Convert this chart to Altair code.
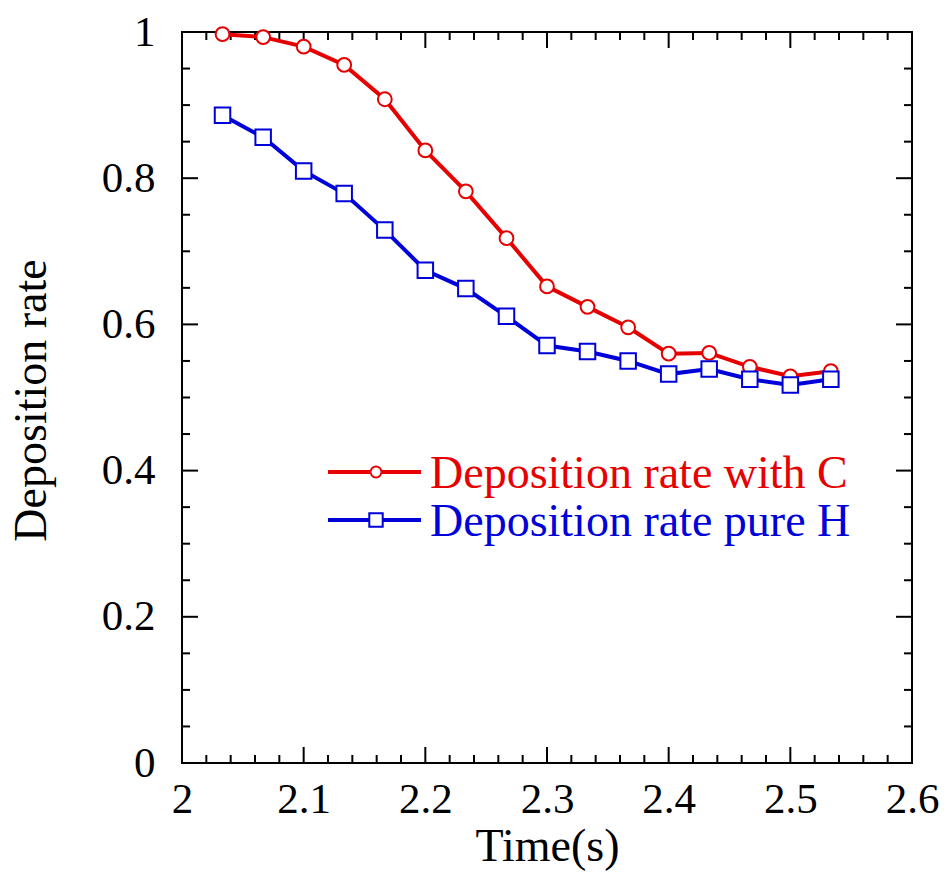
import altair as alt
import pandas as pd

# ---- data ----
time_s = [2.0333, 2.0667, 2.1, 2.1333, 2.1667, 2.2, 2.2333, 2.2667,
          2.3, 2.3333, 2.3667, 2.4, 2.4333, 2.4667, 2.5, 2.5333]
rate_with_c = [0.997, 0.993, 0.980, 0.955, 0.908, 0.838, 0.782, 0.718,
               0.652, 0.624, 0.596, 0.560, 0.561, 0.542, 0.529, 0.536]
rate_pure_h = [0.886, 0.856, 0.810, 0.779, 0.729, 0.674, 0.649, 0.611,
               0.571, 0.563, 0.550, 0.532, 0.539, 0.525, 0.517, 0.525]
series_names = ["Deposition rate with C", "Deposition rate pure H"]

x_major = [2.0, 2.1, 2.2, 2.3, 2.4, 2.5, 2.6]
x_minor = [2.02, 2.04, 2.06, 2.08, 2.12, 2.14, 2.16, 2.18, 2.22, 2.24, 2.26, 2.28,
           2.32, 2.34, 2.36, 2.38, 2.42, 2.44, 2.46, 2.48, 2.52, 2.54, 2.56, 2.58]
y_major = [0.0, 0.2, 0.4, 0.6, 0.8, 1.0]
y_minor = [0.05, 0.1, 0.15, 0.25, 0.3, 0.35, 0.45, 0.5, 0.55, 0.65, 0.7, 0.75,
           0.85, 0.9, 0.95]

# ---- styling ----
W, H = 730, 731
FONT = "Liberation Serif"
COLORS = ["#e60000", "#0000d8"]
SHAPES = ["circle", "square"]
SIZES = [190, 240]

xscale = alt.Scale(domain=[2.0, 2.6], nice=False, zero=False)
yscale = alt.Scale(domain=[0.0, 1.0], nice=False, zero=False)

xaxis = alt.Axis(values=x_major, title="Time(s)", grid=False, ticks=False, tickSize=0,
                 domain=False, labelFlush=False, labelPadding=15,
                 labelExpr="toString(round(datum.value*10)/10)",
                 titleX=W / 2, titleY=97, titleBaseline="alphabetic")
yaxis = alt.Axis(values=y_major, title="Deposition rate", grid=False, ticks=False, tickSize=0,
                 domain=False, labelFlush=False, labelPadding=27,
                 labelExpr="toString(round(datum.value*10)/10)",
                 titleX=-137, titleY=368, titleAngle=270, titleBaseline="alphabetic",
                 titleAlign="center")

X = lambda: alt.X("time:Q", scale=xscale, axis=xaxis)
Y = lambda: alt.Y("rate:Q", scale=yscale, axis=yaxis)

layers = []

# inner ticks on all four sides
def xticks(vals, length):
    df = pd.DataFrame({"time": vals})
    base = alt.Chart(df).mark_rule(color="black", strokeWidth=2)
    return [
        base.encode(x=X(), y=alt.value(H), y2=alt.value(H - length)),
        base.encode(x=X(), y=alt.value(0), y2=alt.value(length)),
    ]

def yticks(vals, length):
    df = pd.DataFrame({"rate": vals})
    base = alt.Chart(df).mark_rule(color="black", strokeWidth=2)
    return [
        base.encode(y=Y(), x=alt.value(0), x2=alt.value(length)),
        base.encode(y=Y(), x=alt.value(W), x2=alt.value(W - length)),
    ]

layers += xticks(x_major, 16) + xticks(x_minor, 8)
layers += yticks(y_major, 16) + yticks(y_minor, 8)

# data series
for name, vals, color, shape, size in zip(series_names, [rate_with_c, rate_pure_h],
                                          COLORS, SHAPES, SIZES):
    df = pd.DataFrame({"time": time_s, "rate": vals, "series": name})
    layers.append(alt.Chart(df).mark_line(color=color, strokeWidth=4).encode(x=X(), y=Y()))
    layers.append(alt.Chart(df).mark_point(shape=shape, size=size, filled=True, fill="white",
                                           stroke=color, strokeWidth=2, opacity=1)
                  .encode(x=X(), y=Y()))

# legend (drawn inside the plot)
leg_rows = [440, 488]
for name, color, shape, size, ly in zip(series_names, COLORS, SHAPES, [120, 180], leg_rows):
    ldf = pd.DataFrame({"series": [name]})
    base = alt.Chart(ldf)
    layers.append(base.mark_rule(color=color, strokeWidth=4)
                  .encode(x=alt.value(146), x2=alt.value(239), y=alt.value(ly)))
    layers.append(base.mark_point(shape=shape, size=size, filled=True, fill="white",
                                  stroke=color, strokeWidth=2, opacity=1)
                  .encode(x=alt.value(194), y=alt.value(ly)))
    layers.append(base.mark_text(align="left", baseline="middle", font=FONT, fontSize=46,
                                 color=color, dy=2)
                  .encode(x=alt.value(248), y=alt.value(ly), text="series:N"))

chart = alt.layer(*layers).properties(
    width=W, height=H,
    padding={"left": 182, "top": 32, "right": 36, "bottom": 109},
    autosize=alt.AutoSizeParams(type="none"),
    background="white",
).configure_view(
    stroke="black", strokeWidth=2
).configure_axis(
    labelFont=FONT, labelFontSize=43, labelColor="black",
    titleFont=FONT, titleFontSize=46, titleFontWeight="normal", titleColor="black",
)

chart.save("out.html", embed_options={"renderer": "svg", "actions": False})
